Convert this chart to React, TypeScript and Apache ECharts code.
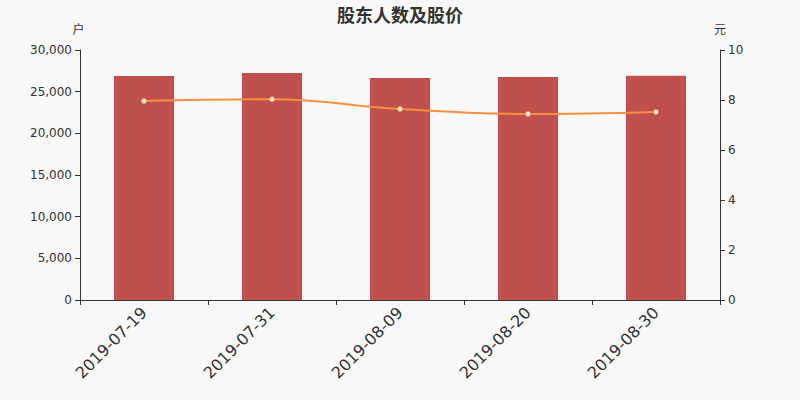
import { useEffect, useRef } from "react";
import * as echarts from "echarts";

const dates = ["2019-07-19", "2019-07-31", "2019-08-09", "2019-08-20", "2019-08-30"];
const holders = [26880, 27240, 26640, 26760, 26900];
const prices = [7.96, 8.03, 7.64, 7.44, 7.52];

export default function App() {
  const ref = useRef<HTMLDivElement | null>(null);

  useEffect(() => {
    if (!ref.current) return;
    const chart = echarts.init(ref.current, undefined, { renderer: "svg" });
    const axisLine = { lineStyle: { color: "#333" } };
    chart.setOption({
      animation: false,
      backgroundColor: "#f8f8f8",
      textStyle: { fontFamily: "DejaVu Sans, Noto Sans CJK SC" },
      title: {
        text: "股东人数及股价",
        left: "center",
        top: 3,
        padding: 0,
        textStyle: { color: "#333", fontSize: 18, lineHeight: 22, fontWeight: "bold", fontFamily: "Noto Sans CJK SC" },
      },
      grid: { left: 80, right: 80, top: 50, bottom: 100 },
      xAxis: {
        type: "category",
        data: dates,
        axisLine,
        axisTick: { show: true, lineStyle: { color: "#333" } },
        axisLabel: { rotate: 45, color: "#333", fontSize: 16, margin: 10 },
      },
      yAxis: [
        {
          type: "value",
          name: "户",
          min: 0,
          max: 30000,
          interval: 5000,
          nameGap: 14,
          nameTextStyle: { color: "#333", fontSize: 12, align: "center", padding: [0, 3, 0, 0] },
          axisLine: { show: true, ...axisLine },
          axisTick: { show: true },
          splitLine: { show: false },
          axisLabel: { color: "#333", fontSize: 12, formatter: (v: number) => v.toLocaleString("en-US") },
        },
        {
          type: "value",
          name: "元",
          min: 0,
          max: 10,
          interval: 2,
          nameGap: 14,
          nameTextStyle: { color: "#333", fontSize: 12, align: "center" },
          axisLine: { show: true, ...axisLine },
          axisTick: { show: true },
          splitLine: { show: false },
          axisLabel: { color: "#333", fontSize: 12 },
        },
      ],
      series: [
        {
          name: "股东人数",
          type: "bar",
          data: holders,
          barWidth: "47%",
          itemStyle: { color: "#c0504d" },
        },
        {
          name: "股价",
          type: "line",
          yAxisIndex: 1,
          data: prices,
          smooth: 0.4,
          symbol: "circle",
          symbolSize: 5,
          lineStyle: { color: "#f7913d", width: 2 },
          itemStyle: { color: "#fff", borderColor: "#f7913d", borderWidth: 1 },
        },
      ],
    });
    return () => chart.dispose();
  }, []);

  return <div ref={ref} style={{ position: "fixed", left: 0, top: 0, width: 800, height: 400 }} />;
}
